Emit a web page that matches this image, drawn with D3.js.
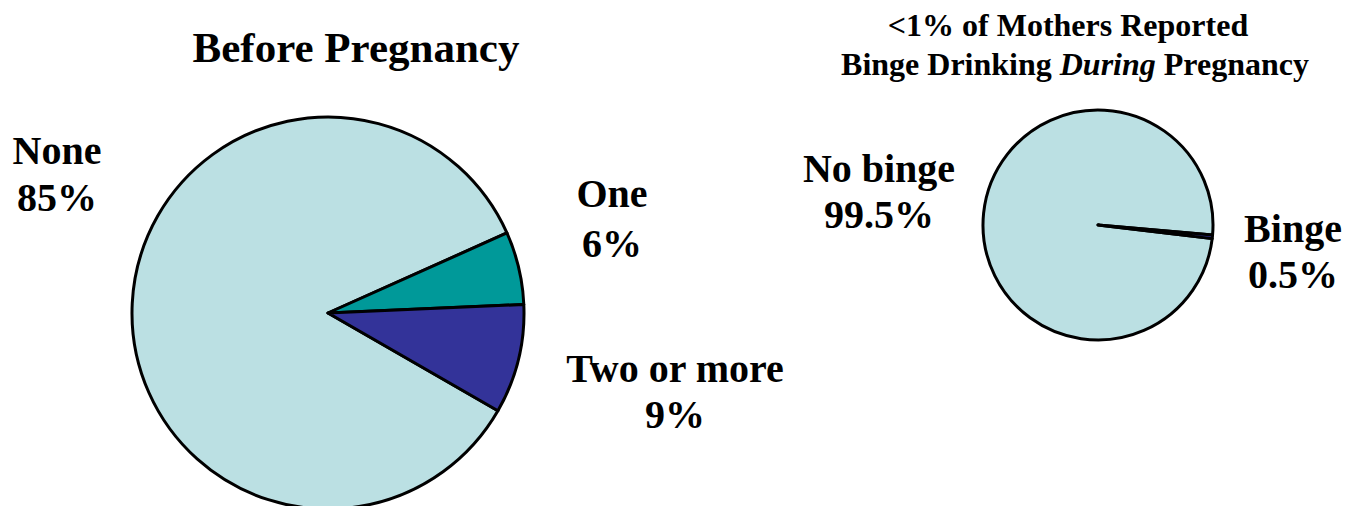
<!DOCTYPE html>
<html>
<head>
<meta charset="utf-8">
<script src="https://cdn.jsdelivr.net/npm/d3@7"></script>
<style>
  body { margin: 0; background: #fff; }
</style>
</head>
<body>
<div class="chart"></div>
<script>
// before pregnancy - number of binge episodes
var beforeLabels = ["None", "One", "Two or more"];
var beforeValues = [85, 6, 9];
var beforeColors = ["#bbe0e3", "#009999", "#333399"];

// during pregnancy
var duringLabels = ["No binge", "Binge"];
var duringValues = [99.5, 0.5];
var duringColors = ["#bbe0e3", "#333399"];

var W = 1350, H = 506;
var FONT = "'Liberation Serif'";
var svg = d3.select("div.chart")
    .append("svg")
    .attr("width", W)
    .attr("height", H);

function drawPie(cx, cy, r, values, colors, startDeg, sw){
    var pie = d3.pie().sort(null)
        .startAngle(startDeg * Math.PI / 180)
        .endAngle(startDeg * Math.PI / 180 + 2 * Math.PI);
    var arc = d3.arc().innerRadius(0).outerRadius(r);
    var g = svg.append("g").attr("transform", "translate(" + cx + "," + cy + ")");
    g.selectAll("path")
        .data(pie(values))
        .enter().append("path")
        .attr("d", arc)
        .attr("fill", function(d, i){ return colors[i]; })
        .attr("stroke", "#000")
        .attr("stroke-width", sw)
        .attr("stroke-linejoin", "round");
}

function txt(x, y, size, s){
    return svg.append("text")
        .attr("x", x)
        .attr("y", y)
        .attr("text-anchor", "middle")
        .style("font-family", FONT)
        .style("font-weight", "bold")
        .style("font-size", size + "px")
        .text(s);
}

// two-line label, one text element per line
function label(lines, x, y, size, gap){
    lines.forEach(function(l, i){
        txt(x, y + i * gap, size, l);
    });
}

drawPie(328, 313, 196, beforeValues, beforeColors, 119.9, 3);
drawPie(1098, 225, 115, duringValues, duringColors, 96.8, 3);

// titles
txt(356, 62, 43, "Before Pregnancy");
txt(1068, 36, 32, "<1% of Mothers Reported");
var t2 = svg.append("text")
    .attr("x", 1075).attr("y", 75)
    .attr("text-anchor", "middle")
    .style("font-family", FONT)
    .style("font-weight", "bold")
    .style("font-size", "32px");
t2.append("tspan").text("Binge Drinking ");
t2.append("tspan").style("font-style", "italic").text("During");
t2.append("tspan").text(" Pregnancy");

// slice labels
label([beforeLabels[0], beforeValues[0] + "%"], 57, 164, 40, 47);
label([beforeLabels[1], beforeValues[1] + "%"], 612, 207, 40, 50);
label([beforeLabels[2], beforeValues[2] + "%"], 675, 382, 40, 46);
label([duringLabels[0], duringValues[0] + "%"], 879, 182, 40, 46);
label([duringLabels[1], duringValues[1] + "%"], 1293, 242, 40, 46);
</script>
</body>
</html>
